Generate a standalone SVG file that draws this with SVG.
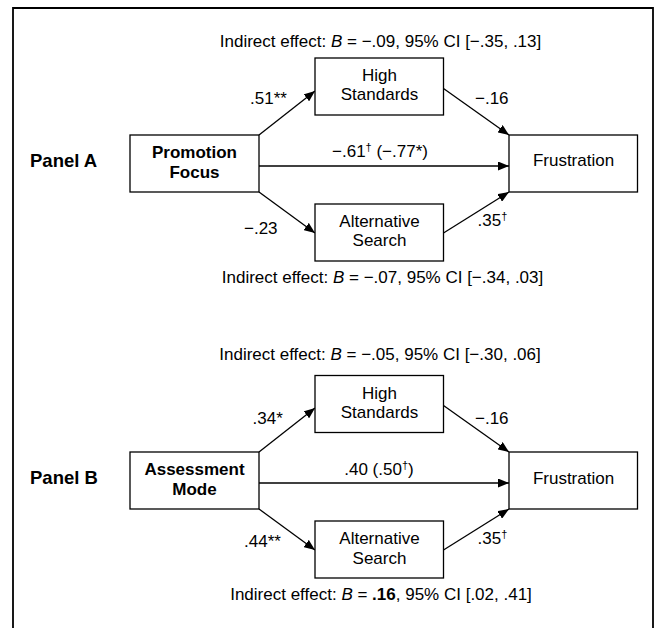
<svg xmlns="http://www.w3.org/2000/svg" width="657" height="628" viewBox="0 0 657 628">
  <style>
    text { font-family: "Liberation Sans", Arial, sans-serif; font-size: 17px; fill: #000; }
    .b { font-weight: bold; }
    .panel { font-weight: bold; font-size: 18.5px; }
    .c { text-anchor: middle; }
    .box { fill: #fff; stroke: #000; stroke-width: 1.3; }
    .edge { stroke: #000; stroke-width: 1.3; fill: none; marker-end: url(#ah); }
    .sup { font-size: 11px; }
  </style>
  <defs>
    <marker id="ah" markerUnits="userSpaceOnUse" markerWidth="11" markerHeight="9" refX="11" refY="4.5" orient="auto">
      <path d="M0,0 L11,4.5 L0,9 z" fill="#000"/>
    </marker>
  </defs>
  <rect width="657" height="628" fill="#fff"/>
  <path d="M13,628 V8 H653 V628" fill="none" stroke="#000" stroke-width="1.8"/>

  <!-- Panel A -->
  <text class="panel" x="30" y="167">Panel A</text>
  <text class="c" x="380.5" y="47">Indirect effect: <tspan font-style="italic">B</tspan> = −.09, 95% CI [−.35, .13]</text>
  <text class="c" x="382.5" y="282.5">Indirect effect: <tspan font-style="italic">B</tspan> = −.07, 95% CI [−.34, .03]</text>

  <g id="connectorsA">
    <line class="edge" x1="259" y1="135" x2="315" y2="91"/>
    <line class="edge" x1="443.5" y1="88.5" x2="509" y2="135"/>
    <line class="edge" x1="259" y1="166" x2="509" y2="166"/>
    <line class="edge" x1="259" y1="192" x2="315" y2="233"/>
    <line class="edge" x1="443.5" y1="233" x2="509" y2="192"/>
  </g>
  <g id="edgeLabelsA">
    <text x="250" y="103.5">.51**</text>
    <text x="475" y="103.5">−.16</text>
    <text class="c" x="380" y="157">−.61<tspan class="sup" dy="-6">†</tspan><tspan dy="6"> (−.77*)</tspan></text>
    <text x="244" y="233.5">−.23</text>
    <text x="477.5" y="226">.35<tspan class="sup" dy="-6">†</tspan></text>
  </g>

  <g id="promotionFocus">
    <rect class="box" x="130" y="135" width="129" height="57"/>
    <text class="b c" x="194.5" y="157.5">Promotion</text>
    <text class="b c" x="194.5" y="178">Focus</text>
  </g>
  <g id="highStandardsA">
    <rect class="box" x="315" y="58" width="128.5" height="57"/>
    <text class="c" x="379.5" y="81">High</text>
    <text class="c" x="379.5" y="100">Standards</text>
  </g>
  <g id="altSearchA">
    <rect class="box" x="315" y="204" width="128.5" height="57"/>
    <text class="c" x="379.5" y="227">Alternative</text>
    <text class="c" x="379.5" y="246">Search</text>
  </g>
  <g id="frustrationA">
    <rect class="box" x="509" y="135" width="128.5" height="57"/>
    <text class="c" x="573.5" y="166">Frustration</text>
  </g>

  <!-- Panel B -->
  <text class="panel" x="30" y="484">Panel B</text>
  <text class="c" x="380" y="359.5">Indirect effect: <tspan font-style="italic">B</tspan> = −.05, 95% CI [−.30, .06]</text>
  <text class="c" x="381" y="600">Indirect effect: <tspan font-style="italic">B</tspan> = <tspan font-weight="bold">.16</tspan>, 95% CI [.02, .41]</text>

  <g id="connectorsB">
    <line class="edge" x1="259" y1="452" x2="315" y2="408"/>
    <line class="edge" x1="443.5" y1="405.5" x2="509" y2="452"/>
    <line class="edge" x1="259" y1="483" x2="509" y2="483"/>
    <line class="edge" x1="259" y1="509" x2="315" y2="550"/>
    <line class="edge" x1="443.5" y1="550" x2="509" y2="509"/>
  </g>
  <g id="edgeLabelsB">
    <text x="252.5" y="423.5">.34*</text>
    <text x="475" y="423.5">−.16</text>
    <text class="c" x="379" y="475">.40 (.50<tspan class="sup" dy="-6">†</tspan><tspan dy="6">)</tspan></text>
    <text x="244" y="547">.44**</text>
    <text x="477.5" y="543.5">.35<tspan class="sup" dy="-6">†</tspan></text>
  </g>

  <g id="assessmentMode">
    <rect class="box" x="130" y="452" width="129" height="57"/>
    <text class="b c" x="194.5" y="475">Assessment</text>
    <text class="b c" x="194.5" y="495">Mode</text>
  </g>
  <g id="highStandardsB">
    <rect class="box" x="315" y="375.5" width="128.5" height="57"/>
    <text class="c" x="379.5" y="398.5">High</text>
    <text class="c" x="379.5" y="417.5">Standards</text>
  </g>
  <g id="altSearchB">
    <rect class="box" x="315" y="521" width="128.5" height="57"/>
    <text class="c" x="379.5" y="543.5">Alternative</text>
    <text class="c" x="379.5" y="564">Search</text>
  </g>
  <g id="frustrationB">
    <rect class="box" x="509" y="452" width="128.5" height="57"/>
    <text class="c" x="573.5" y="483.5">Frustration</text>
  </g>
</svg>
